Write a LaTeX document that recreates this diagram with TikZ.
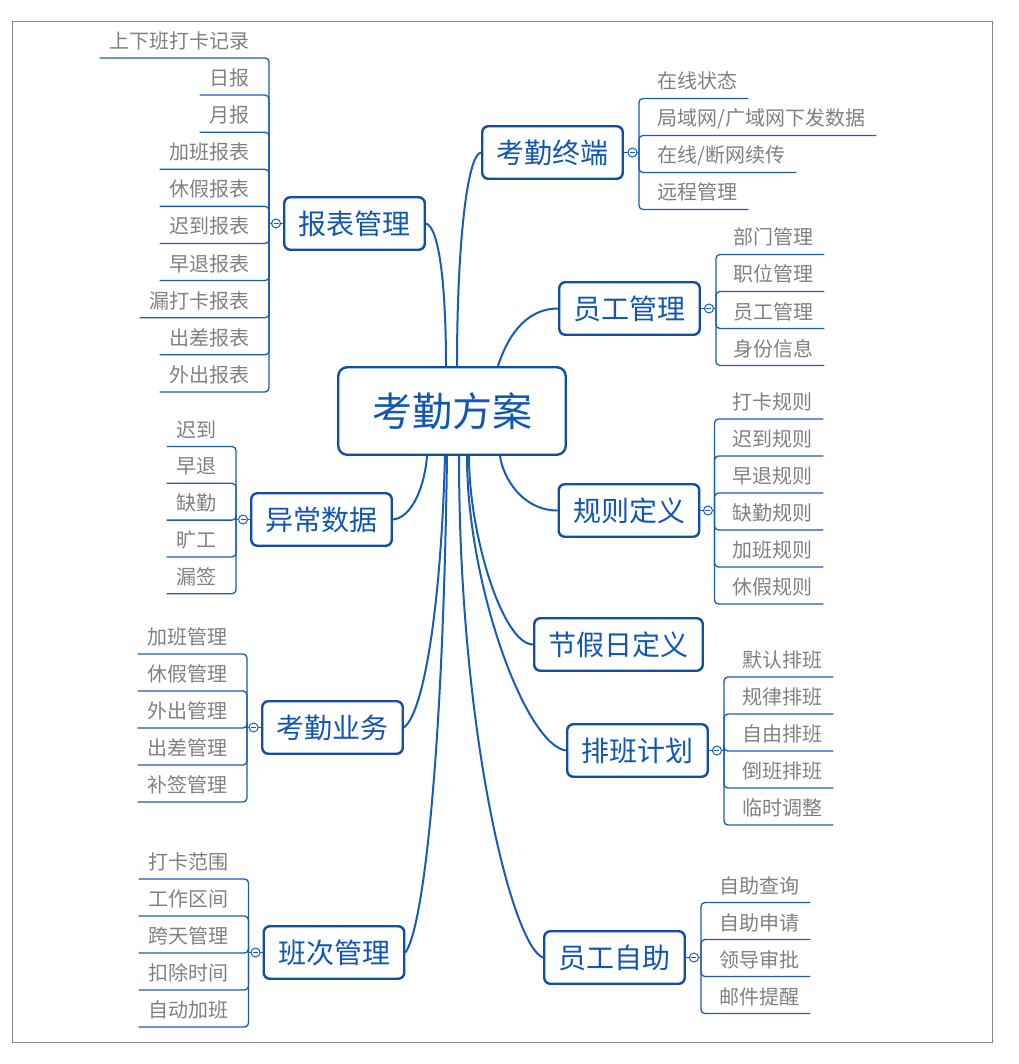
\documentclass[tikz,border=0pt]{standalone}
\usepackage{fontspec}
\newfontfamily\cjk{Noto Sans CJK SC}
\usetikzlibrary{calc}
\definecolor{tb}{RGB}{16,78,168}
\definecolor{tt}{RGB}{18,86,180}
\definecolor{ln}{RGB}{24,92,182}
\definecolor{lf}{RGB}{128,128,128}
\definecolor{bd}{RGB}{136,136,136}
\begin{document}
\begin{tikzpicture}[x=1pt,y=-1pt,
  topic/.style={draw=tb, line width=2.4pt, rounded corners=6pt, fill=white, text=tt,
    font=\cjk\fontsize{28}{32}\selectfont, minimum width=140.5pt, minimum height=52.5pt, inner sep=0pt},
  leaf/.style={inner sep=0pt, text=lf, font=\cjk\fontsize{20}{24}\selectfont},
  leafL/.style={leaf, anchor=base east, yshift=9.5pt},
  leafR/.style={leaf, anchor=base west, yshift=9.5pt},
  ul/.style={draw=ln, line width=1.3pt, rounded corners=4pt},
  conn/.style={draw=ln, line width=2pt},
  knob/.style={circle, draw=ln, line width=1pt, fill=white, minimum size=9pt, inner sep=0pt,
    path picture={\draw[ln, line width=0.9pt] ([xshift=2pt]path picture bounding box.west) -- ([xshift=-2pt]path picture bounding box.east);}},
  border/.style={draw=bd, line width=1pt}
]
\useasboundingbox (0,0) rectangle (1018,1064);
\draw[border] (12,21.5) rectangle (992,1042);

% topics
\node[topic, minimum width=227.5pt, minimum height=87.5pt, rounded corners=9pt,
  font=\cjk\fontsize{40}{46}\selectfont] (c) at (452,411) {考勤方案};
\node[topic] (bb) at (354.5,223.5) {报表管理};
\node[topic] (yc) at (321.5,519.5) {异常数据};
\node[topic] (yw) at (332.5,727.5) {考勤业务};
\node[topic] (bc) at (334,952.5) {班次管理};
\node[topic] (kq) at (552.5,152.5) {考勤终端};
\node[topic] (yg) at (629.5,308.5) {员工管理};
\node[topic] (gz) at (629,510.5) {规则定义};
\node[topic, minimum width=168.5pt] (jj) at (618.5,644.5) {节假日定义};
\node[topic] (pb) at (637.5,750.5) {排班计划};
\node[topic] (zz) at (614.5,957.5) {员工自助};

% main connectors
\draw[conn] (bb.east) .. controls +(14,4) and +(0,-75) .. ($(c.north)+(-6,0)$);
\draw[conn] (kq.west) .. controls +(-14,2) and +(0,-120) .. ($(c.north)+(5,0)$);
\draw[conn] (yg.west) .. controls +(-35,0) and +(8,-25) .. ($(c.north)+(46,0)$);
\draw[conn] (gz.west) .. controls +(-35,0) and +(3,22) .. ($(c.south)+(48,0)$);
\draw[conn] (yc.east) .. controls +(20,-2) and +(-2,28) .. ($(c.south)+(-25,0)$);
\draw[conn] (yw.east) .. controls +(20,-15) and +(-4,150) .. ($(c.south)+(-7,0)$);
\draw[conn] (bc.east) .. controls +(18,-25) and +(-4,300) .. ($(c.south)+(-5,0)$);
\draw[conn] (zz.west) .. controls +(-30,-10) and +(0,280) .. ($(c.south)+(7,0)$);
\draw[conn] (pb.west) .. controls +(-40,-5) and +(0,130) .. ($(c.south)+(15,0)$);
\draw[conn] (jj.west) .. controls +(-30,0) and +(0,80) .. ($(c.south)+(17,0)$);

% leaves: left side
\foreach \t [count=\i] in {上下班打卡记录,日报,月报,加班报表,休假报表,迟到报表,早退报表,漏打卡报表,出差报表,外出报表}
  \node[leafL] (bb\i) at (250,{58+37.1*(\i-1)}) {\t};
\foreach \t [count=\i] in {迟到,早退,缺勤,旷工,漏签}
  \node[leafL] (yc\i) at (217,{446.5+36.8*(\i-1)}) {\t};
\foreach \t [count=\i] in {加班管理,休假管理,外出管理,出差管理,补签管理}
  \node[leafL] (yw\i) at (228,{654+37*(\i-1)}) {\t};
\foreach \t [count=\i] in {打卡范围,工作区间,跨天管理,扣除时间,自动加班}
  \node[leafL] (bc\i) at (229,{879+37*(\i-1)}) {\t};
% leaves: right side
\foreach \t [count=\i] in {在线状态,局域网/广域网下发数据,在线/断网续传,远程管理}
  \node[leafR] (kq\i) at (657,{98.5+37*(\i-1)}) {\t};
\foreach \t [count=\i] in {部门管理,职位管理,员工管理,身份信息}
  \node[leafR] (yg\i) at (733,{254.5+37*(\i-1)}) {\t};
\foreach \t [count=\i] in {打卡规则,迟到规则,早退规则,缺勤规则,加班规则,休假规则}
  \node[leafR] (gz\i) at (732,{419+37*(\i-1)}) {\t};
\foreach \t [count=\i] in {默认排班,规律排班,自由排班,倒班排班,临时调整}
  \node[leafR] (pb\i) at (742,{677+37*(\i-1)}) {\t};
\foreach \t [count=\i] in {自助查询,自助申请,领导审批,邮件提醒}
  \node[leafR] (zz\i) at (719,{902.5+37*(\i-1)}) {\t};

% brackets
\coordinate (bbB) at ($(bb.west)+(-14,0)$);
\coordinate (ycB) at ($(yc.west)+(-14,0)$);
\coordinate (ywB) at ($(yw.west)+(-14,0)$);
\coordinate (bcB) at ($(bc.west)+(-14,0)$);
\coordinate (kqB) at ($(kq.east)+(15,0)$);
\coordinate (ygB) at ($(yg.east)+(15,0)$);
\coordinate (gzB) at ($(gz.east)+(14,0)$);
\coordinate (pbB) at ($(pb.east)+(15,0)$);
\coordinate (zzB) at ($(zz.east)+(15,0)$);

\foreach \g/\n in {bb/10,yc/5,yw/5,bc/5}{
  \draw[ul] (\g.west) -- (\g B);
  \foreach \i in {1,...,\n}
    \draw[ul] (\g B) |- ($(\g\i.base west)+(-10,9.5)$);
}
\foreach \g/\n in {kq/4,yg/4,gz/6,pb/5,zz/4}{
  \draw[ul] (\g.east) -- (\g B);
  \foreach \i in {1,...,\n}
    \draw[ul] (\g B) |- ($(\g\i.base east)+(11,9.5)$);
}

% knobs
\node[knob] (bbK) at ($(bb.west)+(-7,0)$) {};
\node[knob] (ycK) at ($(yc.west)+(-7,0)$) {};
\node[knob] (ywK) at ($(yw.west)+(-7.5,0)$) {};
\node[knob] (bcK) at ($(bc.west)+(-7,0)$) {};
\node[knob] (kqK) at ($(kq.east)+(8.5,0)$) {};
\node[knob] (ygK) at ($(yg.east)+(8,0)$) {};
\node[knob] (gzK) at ($(gz.east)+(7.5,0)$) {};
\node[knob] (pbK) at ($(pb.east)+(8,0)$) {};
\node[knob] (zzK) at ($(zz.east)+(8,0)$) {};
\end{tikzpicture}
\end{document}
